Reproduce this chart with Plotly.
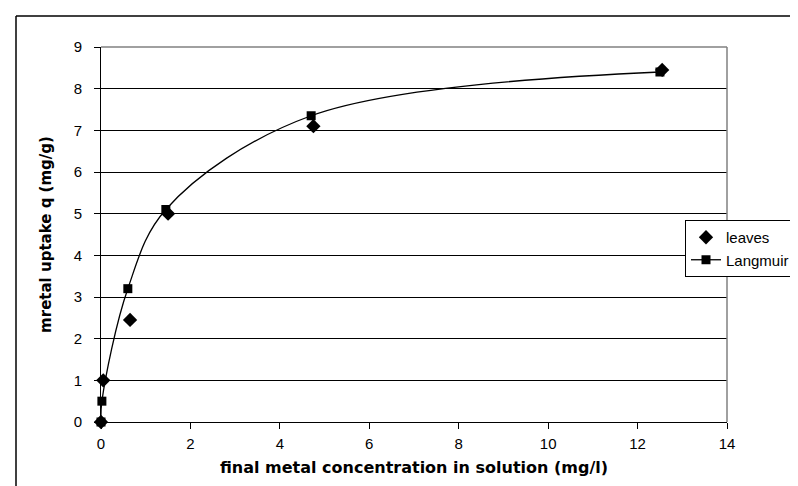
import plotly.graph_objects as go

# data
leaves_x = [0, 0.05, 0.65, 1.5, 4.75, 12.55]
leaves_y = [0, 1.0, 2.45, 5.0, 7.1, 8.45]
lang_x = [0, 0.02, 0.6, 1.45, 4.7, 12.5]
lang_y = [0, 0.5, 3.2, 5.1, 7.35, 8.4]
x_ticks = [0, 2, 4, 6, 8, 10, 12, 14]
y_ticks = [0, 1, 2, 3, 4, 5, 6, 7, 8, 9]

FONT = "Liberation Sans, Arial, sans-serif"
TITLE_FONT = "DejaVu Sans, Liberation Sans, Arial, sans-serif"

fig = go.Figure()
fig.add_trace(go.Scatter(
    x=leaves_x, y=leaves_y, mode="markers", name="leaves",
    marker=dict(symbol="diamond", size=11, color="black"),
    cliponaxis=False,
))
fig.add_trace(go.Scatter(
    x=lang_x, y=lang_y, mode="lines+markers", name="Langmuir",
    line=dict(color="black", width=1.3, shape="spline", smoothing=1.0),
    marker=dict(symbol="square", size=9, color="black"),
    cliponaxis=False,
))

W, H = 798, 486
L, R, T, B = 93, 79, 39, 72
pw, ph = W - L - R, H - T - B

fig.update_layout(
    width=W, height=H,
    margin=dict(l=L, r=R, t=T, b=B, autoexpand=False),
    paper_bgcolor="white", plot_bgcolor="white",
    font=dict(family=FONT, size=15, color="black"),
    showlegend=True,
    legend=dict(
        x=(677 - L) / pw, y=(H - B - 212) / ph,
        xanchor="left", yanchor="top",
        bordercolor="black", borderwidth=1, bgcolor="white",
        font=dict(family=FONT, size=15, color="black"),
        itemwidth=30,
    ),
    xaxis=dict(
        range=[0, 14], tickvals=x_ticks, showgrid=False, zeroline=False,
        showline=True, linecolor="black", linewidth=1,
        ticks="outside", ticklen=6, tickcolor="black",
        tickfont=dict(size=15), ticklabelstandoff=2,
        title=dict(text="<b>final metal concentration in solution (mg/l)</b>",
                   font=dict(family=TITLE_FONT, size=16), standoff=10),
    ),
    yaxis=dict(
        range=[0, 9], tickvals=y_ticks, showgrid=True, gridcolor="black",
        gridwidth=1, zeroline=False,
        showline=True, linecolor="black", linewidth=1,
        ticks="outside", ticklen=6, tickcolor="black",
        tickfont=dict(size=15), ticklabelstandoff=9,
        title=dict(text="<b>mretal uptake q (mg/g)</b>",
                   font=dict(family=TITLE_FONT, size=15), standoff=18),
    ),
    shapes=[
        # plot area top/right border (gray)
        dict(type="line", xref="paper", yref="paper", x0=0, y0=1, x1=1, y1=1,
             line=dict(color="#808080", width=1.5)),
        dict(type="line", xref="paper", yref="paper", x0=1, y0=0, x1=1, y1=1,
             line=dict(color="#808080", width=1.5)),
        # outer chart border (left and top, rest cut off)
        dict(type="line", xref="paper", yref="paper",
             x0=(8 - L) / pw, y0=-0.3, x1=(8 - L) / pw, y1=1 + (T - 8) / ph,
             line=dict(color="black", width=1.5)),
        dict(type="line", xref="paper", yref="paper",
             x0=(8 - L) / pw, y0=1 + (T - 8) / ph, x1=1.2, y1=1 + (T - 8) / ph,
             line=dict(color="black", width=1.5)),
    ],
)

fig.write_html("out.html")
